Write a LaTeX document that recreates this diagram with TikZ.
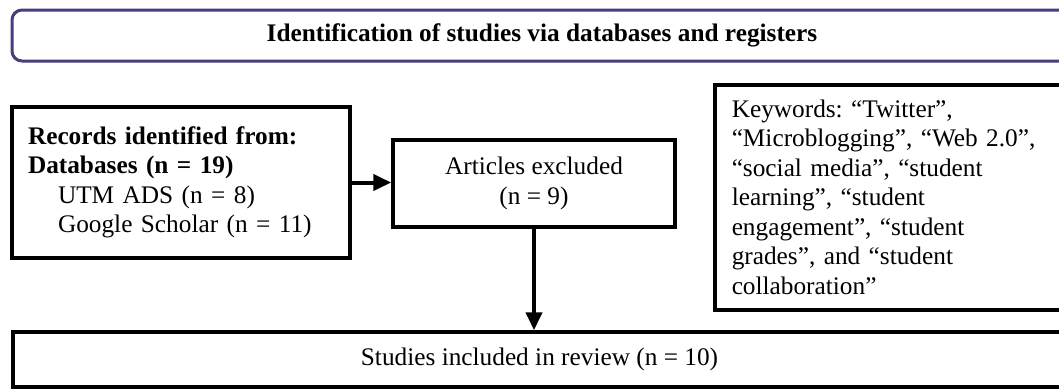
\documentclass[tikz,border=0pt]{standalone}
\usepackage{fontspec}
\setmainfont{Liberation Serif}
\frenchspacing
\usetikzlibrary{arrows.meta}
\definecolor{framepurple}{HTML}{4B3D7C}
\tikzset{
  blackbox/.style={draw=black, line width=3.5pt, fill=white, inner sep=0pt,
    font=\fontsize{25.3}{29.5}\selectfont},
  titlebox/.style={draw=framepurple, line width=3pt, rounded corners=10pt, fill=white,
    inner sep=0pt, font=\fontsize{25.3}{29.5}\selectfont\bfseries},
  flowarrow/.style={line width=4pt, -{Triangle[length=18pt,width=16pt]}},
}
\begin{document}
\begin{tikzpicture}[x=1pt,y=-1pt]
\useasboundingbox (0,0) rectangle (1059,388);
\fill[white] (0,0) rectangle (1059,388);
% title banner
\node[titlebox, minimum width=1060pt, minimum height=51pt] (title) at (542,35.5)
  {Identification of studies via databases and registers};
% records
\node[blackbox, minimum width=338pt, minimum height=151pt, text width=306pt,
  inner xsep=16pt, align=left] (rec) at (181,182.5)
  {\textbf{Records identified from:}\\
   \textbf{Databases (n = 19)}\\
   \hspace*{30pt}UTM ADS (n = 8)\\
   \hspace*{30pt}Google Scholar (n = 11)};
% articles excluded
\node[blackbox, minimum width=282pt, minimum height=87pt, align=center] (art) at (534,183.5)
  {Articles excluded\\(n = 9)};
% keywords
\node[blackbox, anchor=north west, minimum width=360pt, minimum height=225pt,
  text width=326pt, inner xsep=17pt, align=left] (kw) at (713,83)
  {Keywords: “Twitter”,\\
   “Microblogging”, “Web 2.0”,\\
   “social media”, “student\\
   learning”, “student\\
   engagement”, “student\\
   grades”, and “student\\
   collaboration”};
% included
\node[blackbox, minimum width=1053pt, minimum height=55pt] (inc) at (539.5,359.5)
  {Studies included in review (n = 10)};
% connectors
\draw[flowarrow] (rec.east) -- (rec.east -| art.west);
\draw[flowarrow] (art.south) -- (art.south |- inc.north);
\end{tikzpicture}
\end{document}
